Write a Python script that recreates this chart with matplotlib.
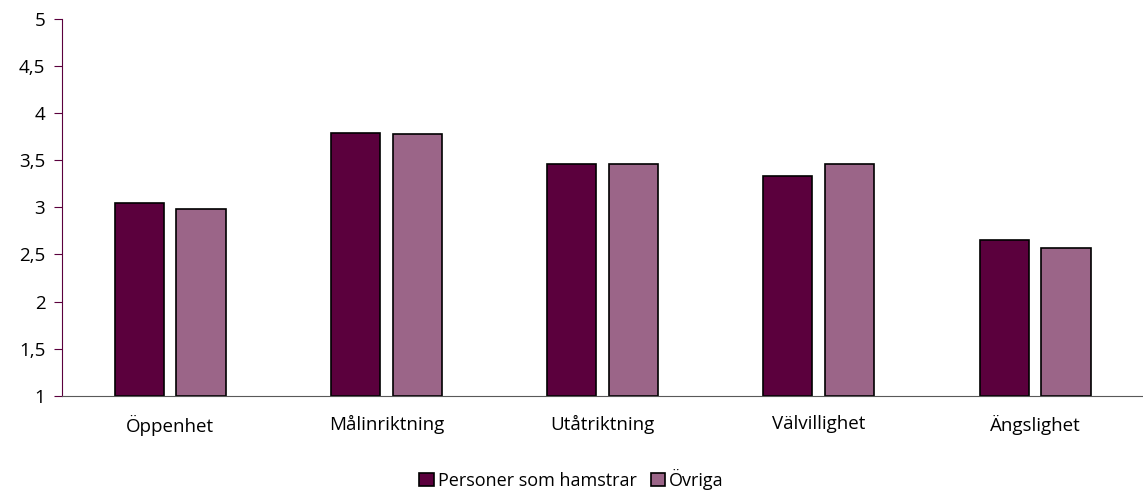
import matplotlib.pyplot as plt
import numpy as np

categories = ["Öppenhet", "Målinriktning", "Utåtriktning", "Välvillighet", "Ängslighet"]
hamstrar = [3.05, 3.79, 3.46, 3.33, 2.65]
ovriga = [2.98, 3.78, 3.46, 3.46, 2.57]
series_names = ["Personer som hamstrar", "Övriga"]
yticks = [1, 1.5, 2, 2.5, 3, 3.5, 4, 4.5, 5]
ytick_labels = ["1", "1,5", "2", "2,5", "3", "3,5", "4", "4,5", "5"]

plt.rcParams["font.family"] = ["Open Sans", "DejaVu Sans"]

fig = plt.figure(figsize=(11.43, 4.93), dpi=100)
ax = fig.add_axes([0.0542, 0.197, 0.946, 0.765])

x = np.arange(len(categories))
w = 0.227
off = 0.143
b1 = ax.bar(x - off, np.array(hamstrar) - 1, w, bottom=1, color="#5B003D",
            edgecolor="black", linewidth=1.2, label=series_names[0])
b2 = ax.bar(x + off, np.array(ovriga) - 1, w, bottom=1, color="#9B6588",
            edgecolor="black", linewidth=1.2, label=series_names[1])

ax.set_xlim(-0.5, 4.5)
ax.set_ylim(1, 5)
ax.set_yticks(yticks)
ax.set_yticklabels(ytick_labels, fontsize=13.5)
ax.set_xticks(x)
ax.set_xticklabels(categories, fontsize=13.5)
ax.tick_params(axis="x", length=0, pad=14)
ax.tick_params(axis="y", length=6, color="#5B003D", pad=6)

for s in ["top", "right"]:
    ax.spines[s].set_visible(False)
ax.spines["left"].set_color("#5B003D")
ax.spines["bottom"].set_color("#595959")

fig.legend(handles=[b1, b2], loc="center", bbox_to_anchor=(0.5, 0.028), ncol=2,
           frameon=False, fontsize=13, handlelength=0.8, handleheight=0.8,
           handletextpad=0.2, columnspacing=0.8)

fig.savefig("out.png", dpi=100)
